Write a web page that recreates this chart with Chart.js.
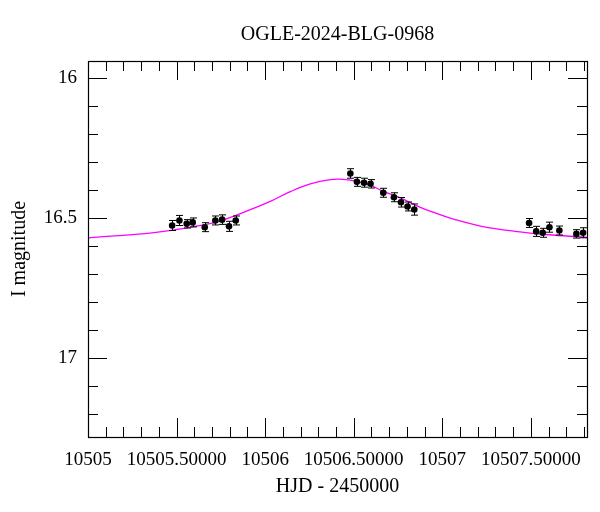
<!DOCTYPE html>
<html>
<head>
<meta charset="utf-8">
<script src="https://cdn.jsdelivr.net/npm/chart.js@4/dist/chart.umd.min.js"></script>
<style>
html,body{margin:0;padding:0;background:#fff;}
#c{display:block;}
</style>
</head>
<body>
<canvas id="c" width="600" height="512"></canvas>
<script>
// Observed photometry (HJD - 2450000, I magnitude, error)
const obsHJD = [10505.475, 10505.516, 10505.557, 10505.591, 10505.659, 10505.719, 10505.757, 10505.796, 10505.834,
                10506.481, 10506.518, 10506.558, 10506.595, 10506.667, 10506.727, 10506.767, 10506.804, 10506.842,
                10507.490, 10507.530, 10507.567, 10507.605, 10507.661, 10507.757, 10507.795];
const obsMag = [16.526, 16.508, 16.520, 16.515, 16.532, 16.508, 16.505, 16.529, 16.508,
                16.340, 16.370, 16.373, 16.377, 16.409, 16.425, 16.443, 16.458, 16.469,
                16.517, 16.547, 16.552, 16.532, 16.544, 16.556, 16.552];
const obsErr = [0.018, 0.018, 0.015, 0.016, 0.016, 0.016, 0.017, 0.018, 0.016,
                0.017, 0.016, 0.016, 0.015, 0.016, 0.016, 0.017, 0.016, 0.020,
                0.016, 0.018, 0.016, 0.018, 0.016, 0.015, 0.018];
// Model curve
const modelHJD = [10505.000, 10505.174, 10505.362, 10505.550, 10505.738, 10505.945, 10506.029, 10506.142,
                  10506.255, 10506.368, 10506.443, 10506.518, 10506.593, 10506.668, 10506.763, 10506.876,
                  10506.960, 10507.073, 10507.223, 10507.411, 10507.599, 10507.806, 10507.817];
const modelMag = [16.570, 16.562, 16.552, 16.535, 16.511, 16.462, 16.440, 16.405,
                  16.377, 16.362, 16.361, 16.368, 16.382, 16.404, 16.427, 16.461,
                  16.481, 16.505, 16.529, 16.547, 16.559, 16.568, 16.569];
const xTickValues = [10505, 10505.5, 10506, 10506.5, 10507, 10507.5];
const yTickValues = [16, 16.5, 17];
const xRange = [10505, 10507.817];
const yRange = [15.938, 17.282];

const FONT = 'Liberation Serif';

const obsPoints = obsHJD.map((x, i) => ({x: x, y: obsMag[i]}));
const modelPoints = modelHJD.map((x, i) => ({x: x, y: modelMag[i]}));

const framePlugin = {
  id: 'frame',
  afterDatasetsDraw(chart) {
    const ctx = chart.ctx;
    const xs = chart.scales.x, ys = chart.scales.y;
    const a = chart.chartArea;
    ctx.save();
    // error bars
    ctx.strokeStyle = '#000';
    ctx.lineWidth = 1;
    obsHJD.forEach((x, i) => {
      const px = Math.round(xs.getPixelForValue(x)) + 0.5;
      const y1 = ys.getPixelForValue(obsMag[i] - obsErr[i]);
      const y2 = ys.getPixelForValue(obsMag[i] + obsErr[i]);
      ctx.beginPath();
      ctx.moveTo(px, y1); ctx.lineTo(px, y2);
      ctx.moveTo(px - 3.5, y1); ctx.lineTo(px + 3.5, y1);
      ctx.moveTo(px - 3.5, y2); ctx.lineTo(px + 3.5, y2);
      ctx.stroke();
    });
    // frame
    ctx.strokeStyle = '#000';
    ctx.lineWidth = 1.2;
    ctx.strokeRect(Math.round(a.left) + 0.5, Math.round(a.top) + 0.5,
                   Math.round(a.right - a.left), Math.round(a.bottom - a.top));
    // ticks
    ctx.lineWidth = 1;
    ctx.beginPath();
    for (let k = 0; k * 0.1 <= xRange[1] - xRange[0] + 1e-9; k++) {
      const v = xRange[0] + k * 0.1;
      const px = Math.round(xs.getPixelForValue(v)) + 0.5;
      const len = (k % 5 === 0) ? 19 : 10;
      ctx.moveTo(px, a.bottom); ctx.lineTo(px, a.bottom - len);
      ctx.moveTo(px, a.top); ctx.lineTo(px, a.top + len);
    }
    for (let k = 0; k <= 13; k++) {
      const v = 16.0 + (k - 0) * 0.1 - 0.0;
      if (v < yRange[0] || v > yRange[1]) continue;
      const py = Math.round(ys.getPixelForValue(v)) + 0.5;
      const len = (k % 5 === 0) ? 19 : 10;
      ctx.moveTo(a.left, py); ctx.lineTo(a.left + len, py);
      ctx.moveTo(a.right, py); ctx.lineTo(a.right - len, py);
    }
    ctx.stroke();
    ctx.restore();
  }
};

new Chart(document.getElementById('c'), {
  type: 'scatter',
  data: {
    datasets: [
      {
        label: 'model',
        type: 'line',
        data: modelPoints,
        borderColor: '#ff00ff',
        borderWidth: 1.3,
        pointRadius: 0,
        fill: false,
        tension: 0.4,
        order: 2
      },
      {
        label: 'OGLE',
        data: obsPoints,
        backgroundColor: '#000',
        borderColor: '#000',
        pointRadius: 3.3,
        pointBorderWidth: 0,
        order: 1
      }
    ]
  },
  options: {
    responsive: false,
    animation: false,
    devicePixelRatio: 1,
    layout: {padding: {left: 0, right: 13, top: 0, bottom: 0}},
    plugins: {
      legend: {display: false},
      tooltip: {enabled: false},
      title: {display: false}
    },
    scales: {
      x: {
        type: 'linear',
        min: xRange[0],
        max: xRange[1],
        grid: {display: false, drawTicks: false},
        border: {display: false},
        afterBuildTicks: (s) => { s.ticks = xTickValues.map(v => ({value: v})); },
        afterFit: (s) => { s.height = 75; },
        ticks: {
          color: '#000',
          font: {family: FONT, size: 19},
          padding: 12,
          maxRotation: 0,
          autoSkip: false,
          callback: (v) => (Math.abs(v - Math.round(v)) < 1e-9) ? String(Math.round(v)) : v.toFixed(5)
        },
        title: {
          display: true,
          text: 'HJD - 2450000',
          color: '#000',
          font: {family: FONT, size: 20},
          padding: {top: 0, bottom: 13}
        }
      },
      x2: {
        type: 'linear',
        position: 'top',
        min: xRange[0],
        max: xRange[1],
        grid: {display: false, drawTicks: false},
        border: {display: false},
        ticks: {display: false},
        afterFit: (s) => { s.height = 61; },
        title: {
          display: true,
          text: 'OGLE-2024-BLG-0968',
          color: '#000',
          font: {family: FONT, size: 20},
          padding: {top: 23, bottom: 0}
        }
      },
      y: {
        type: 'linear',
        reverse: true,
        min: yRange[0],
        max: yRange[1],
        grid: {display: false, drawTicks: false},
        border: {display: false},
        afterBuildTicks: (s) => { s.ticks = yTickValues.map(v => ({value: v})); },
        afterFit: (s) => { s.width = 88; },
        ticks: {
          color: '#000',
          font: {family: FONT, size: 19},
          padding: 11,
          autoSkip: false,
          callback: (v) => String(v)
        },
        title: {
          display: true,
          text: 'I magnitude',
          color: '#000',
          font: {family: FONT, size: 20},
          padding: {top: 8, bottom: 0}
        }
      }
    }
  },
  plugins: [framePlugin]
});
</script>
</body>
</html>
